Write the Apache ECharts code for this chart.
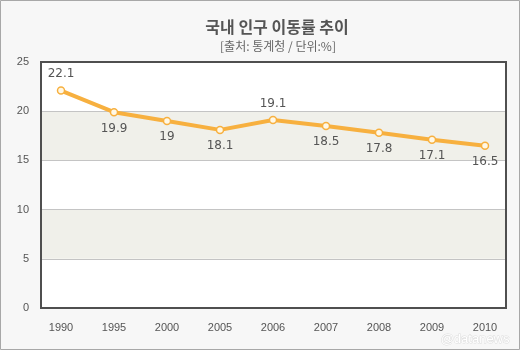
<!DOCTYPE html>
<html><head><meta charset="utf-8">
<script src="https://cdn.jsdelivr.net/npm/echarts@6/dist/echarts.min.js"></script>
<style>html,body{margin:0;padding:0;background:#f7f7f7}#c{width:520px;height:350px}</style>
</head><body><div id="c"></div>
<script>
const titleText = '국내 인구 이동률 추이';
const subtitleText = '[출처: 통계청 / 단위:%]';
const years = ['1990','1995','2000','2005','2006','2007','2008','2009','2010'];
const rates = [22.1, 19.9, 19, 18.1, 19.1, 18.5, 17.8, 17.1, 16.5];
const yMin = 0, yMax = 25, yStep = 5;

const aboveIdx = [0, 4];
const plot = {left: 41, right: 14, top: 62, bottom: 42};
const W = 520, H = 350;
const chart = echarts.init(document.getElementById('c'));
chart.setOption({
  backgroundColor: '#f7f7f7',
  animation: false,
  title: [
    {text: titleText, left: 272, top: 14, textAlign: 'center',
     textStyle: {fontFamily: 'Noto Sans CJK KR', fontSize: 16, fontWeight: 'bold', color: '#555'}},
    {text: subtitleText, left: 273, top: 35, textAlign: 'center',
     textStyle: {fontFamily: 'Noto Sans CJK KR', fontSize: 12, fontWeight: 'normal', color: '#666'}}
  ],
  graphic: [
    {type: 'rect', shape: {x: 0.5, y: 0.5, width: W - 1, height: H - 1}, style: {fill: 'none', stroke: '#a8a8a8', lineWidth: 1}, silent: true},
    {type: 'rect', z: 100, silent: true,
     shape: {x: plot.left, y: plot.top, width: W - plot.left - plot.right, height: H - plot.top - plot.bottom},
     style: {fill: 'none', stroke: '#4f4f4f', lineWidth: 2}},
    {type: 'text', right: 10, bottom: 4, style: {text: '@datanews', fontFamily: 'Arial', fontSize: 13, fill: '#ffffff', stroke: '#dddddd', lineWidth: 1}, silent: true}
  ],
  grid: [
    Object.assign({show: true, backgroundColor: '#fff', borderWidth: 0}, plot),
    {left: 61, right: 35, top: 62, bottom: 42}
  ],
  xAxis: [
    {type: 'category', gridIndex: 0, data: years, show: false},
    {type: 'category', gridIndex: 1, data: years, boundaryGap: false,
     axisLine: {show: false}, axisTick: {show: false}, splitLine: {show: false},
     axisLabel: {margin: 14, fontFamily: 'Arial', fontSize: 11, color: '#555'}}
  ],
  yAxis: [
    {type: 'value', gridIndex: 0, min: yMin, max: yMax, interval: yStep, position: 'left',
     axisLine: {show: false}, axisTick: {show: false},
     axisLabel: {margin: 12, fontFamily: 'Arial', fontSize: 11, color: '#555'},
     splitLine: {show: true, lineStyle: {color: '#c4c4c4', width: 1}},
     splitArea: {show: true, areaStyle: {color: ['#ffffff', '#f0f0ea']}}},
    {type: 'value', gridIndex: 1, min: yMin, max: yMax, interval: yStep, show: false, splitLine: {show: false}}
  ],
  series: [{
    type: 'line', xAxisIndex: 1, yAxisIndex: 1,
    data: rates.map((v, i) => ({value: v, label: {position: aboveIdx.includes(i) ? 'top' : 'bottom'}})),
    lineStyle: {color: '#f7b03f', width: 4},
    itemStyle: {color: '#fff8e6', borderColor: '#f7b03f', borderWidth: 1.5},
    symbol: 'circle', symbolSize: 7, showSymbol: true,
    label: {show: true, distance: 6, fontFamily: 'DejaVu Sans', fontSize: 12, color: '#555'},
    z: 5
  }]
});
</script></body></html>
